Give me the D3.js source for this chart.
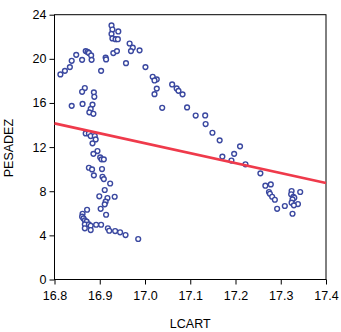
<!DOCTYPE html>
<html><head><meta charset="utf-8">
<script src="https://cdn.jsdelivr.net/npm/d3@7"></script>
<style>html,body{margin:0;padding:0;background:#fff;}svg{display:block;}text{font-family:"Liberation Sans",Arial,sans-serif;}</style>
</head><body><svg id="c" width="341" height="332"></svg>
<script>
const lcart = [16.813,16.823,16.834,16.838,16.848,16.861,16.869,16.873,16.876,16.881,16.882,16.903,16.913,16.914,16.930,16.938,16.958,
16.926,16.928,16.941,16.926,16.928,16.935,16.940,16.966,16.973,16.969,16.988,
17.001,17.017,17.026,17.021,17.026,17.021,17.060,17.070,17.074,17.083,17.038,17.093,17.112,17.133,17.134,17.149,17.165,17.210,17.197,17.171,17.191,17.222,17.255,17.266,17.278,17.274,17.276,17.281,17.287,17.292,17.309,17.324,17.323,17.328,17.330,17.326,17.343,17.324,17.338,17.329,17.326,
16.867,16.861,16.887,16.888,16.838,16.862,16.884,16.880,16.877,16.886,16.869,16.876,16.880,16.889,16.891,16.884,16.895,16.886,16.901,16.904,16.909,16.876,16.883,16.905,16.887,16.906,16.909,16.923,16.911,16.899,16.917,16.933,16.913,16.911,16.872,16.902,16.914,16.862,16.861,16.864,16.867,16.871,16.867,16.876,16.880,16.867,16.880,16.892,16.903,16.918,16.921,16.934,16.945,16.957,16.985];
const pesadez = [18.59,18.91,19.25,19.82,20.36,19.91,20.70,20.63,20.54,20.31,19.91,18.91,20.11,19.95,20.52,20.70,19.61,
23.03,22.66,22.48,22.26,21.85,21.78,21.78,21.39,21.01,20.70,20.77,
19.25,18.37,18.14,18.04,17.30,16.80,17.68,17.32,17.10,16.78,15.56,15.60,14.86,14.87,14.09,13.30,12.61,12.07,11.39,11.14,10.78,10.44,9.62,8.50,8.62,7.93,7.77,7.50,7.23,6.41,6.66,8.02,7.72,7.50,7.41,7.26,7.93,6.96,6.84,6.72,5.96,
17.35,17.01,16.96,16.56,15.74,15.91,15.85,15.46,15.15,15.02,13.24,13.24,13.00,13.00,12.70,12.34,11.64,11.39,11.07,10.89,10.89,10.13,9.98,10.01,9.44,9.31,9.10,8.70,8.11,7.54,7.38,7.50,7.05,6.81,6.32,6.41,5.87,5.96,5.69,5.54,5.36,5.24,5.00,5.00,4.87,4.64,4.48,4.96,4.96,4.64,4.42,4.39,4.28,4.03,3.67];
const xTicks = [16.8,16.9,17.0,17.1,17.2,17.3,17.4];
const yTicks = [0,4,8,12,16,20,24];
const fitX = [16.8,17.4];
const fitY = [14.15,8.75];
const xLabel = "LCART", yLabel = "PESADEZ";

const svg = d3.select("#c");
const L=54.5, R=326, T=14.7, B=279.5;
const x = d3.scaleLinear().domain([16.8,17.4]).range([L,R]);
const y = d3.scaleLinear().domain([0,24]).range([B,T]);

svg.append("rect").attr("x",L).attr("y",T).attr("width",R-L).attr("height",B-T)
  .attr("fill","none").attr("stroke","#000").attr("stroke-width",1);

const fmt = d3.format(".1f");
const ax = svg.append("g").attr("transform",`translate(0,${B})`)
  .call(d3.axisBottom(x).tickValues(xTicks).tickFormat(fmt).tickSize(5).tickSizeOuter(0));
const ay = svg.append("g").attr("transform",`translate(${L},0)`)
  .call(d3.axisLeft(y).tickValues(yTicks).tickFormat(d3.format("d")).tickSize(5).tickSizeOuter(0));
[ax,ay].forEach(g=>{
  g.select(".domain").remove();
  g.selectAll("line").attr("stroke","#000");
  g.selectAll("text").attr("font-size","12.5px").attr("fill","#000")
   .attr("font-family","'Liberation Sans',Arial,sans-serif");
});
ax.selectAll("text").attr("dy","1.0em");
ay.selectAll("text").attr("x",-8);

const pts = lcart.map((v,i)=>({x:v,y:pesadez[i]}));
svg.append("g").selectAll("circle").data(pts).join("circle")
  .attr("cx",d=>x(d.x)).attr("cy",d=>y(d.y)).attr("r",2.4)
  .attr("fill","#fff").attr("stroke","#3a48a0").attr("stroke-width",1.4);

const fit = fitX.map((v,i)=>[v,fitY[i]]);
svg.append("path").datum(fit)
  .attr("d",d3.line().x(d=>x(d[0])).y(d=>y(d[1])))
  .attr("stroke","#ef3a4b").attr("stroke-width",2.6).attr("fill","none");

svg.append("text").attr("x",(L+R)/2).attr("y",328).attr("text-anchor","middle")
  .attr("font-size","12.5px").text(xLabel);
svg.append("text").attr("transform",`translate(13,${(T+B)/2+1}) rotate(-90)`)
  .attr("text-anchor","middle").attr("font-size","12.5px").text(yLabel);
</script></body></html>
